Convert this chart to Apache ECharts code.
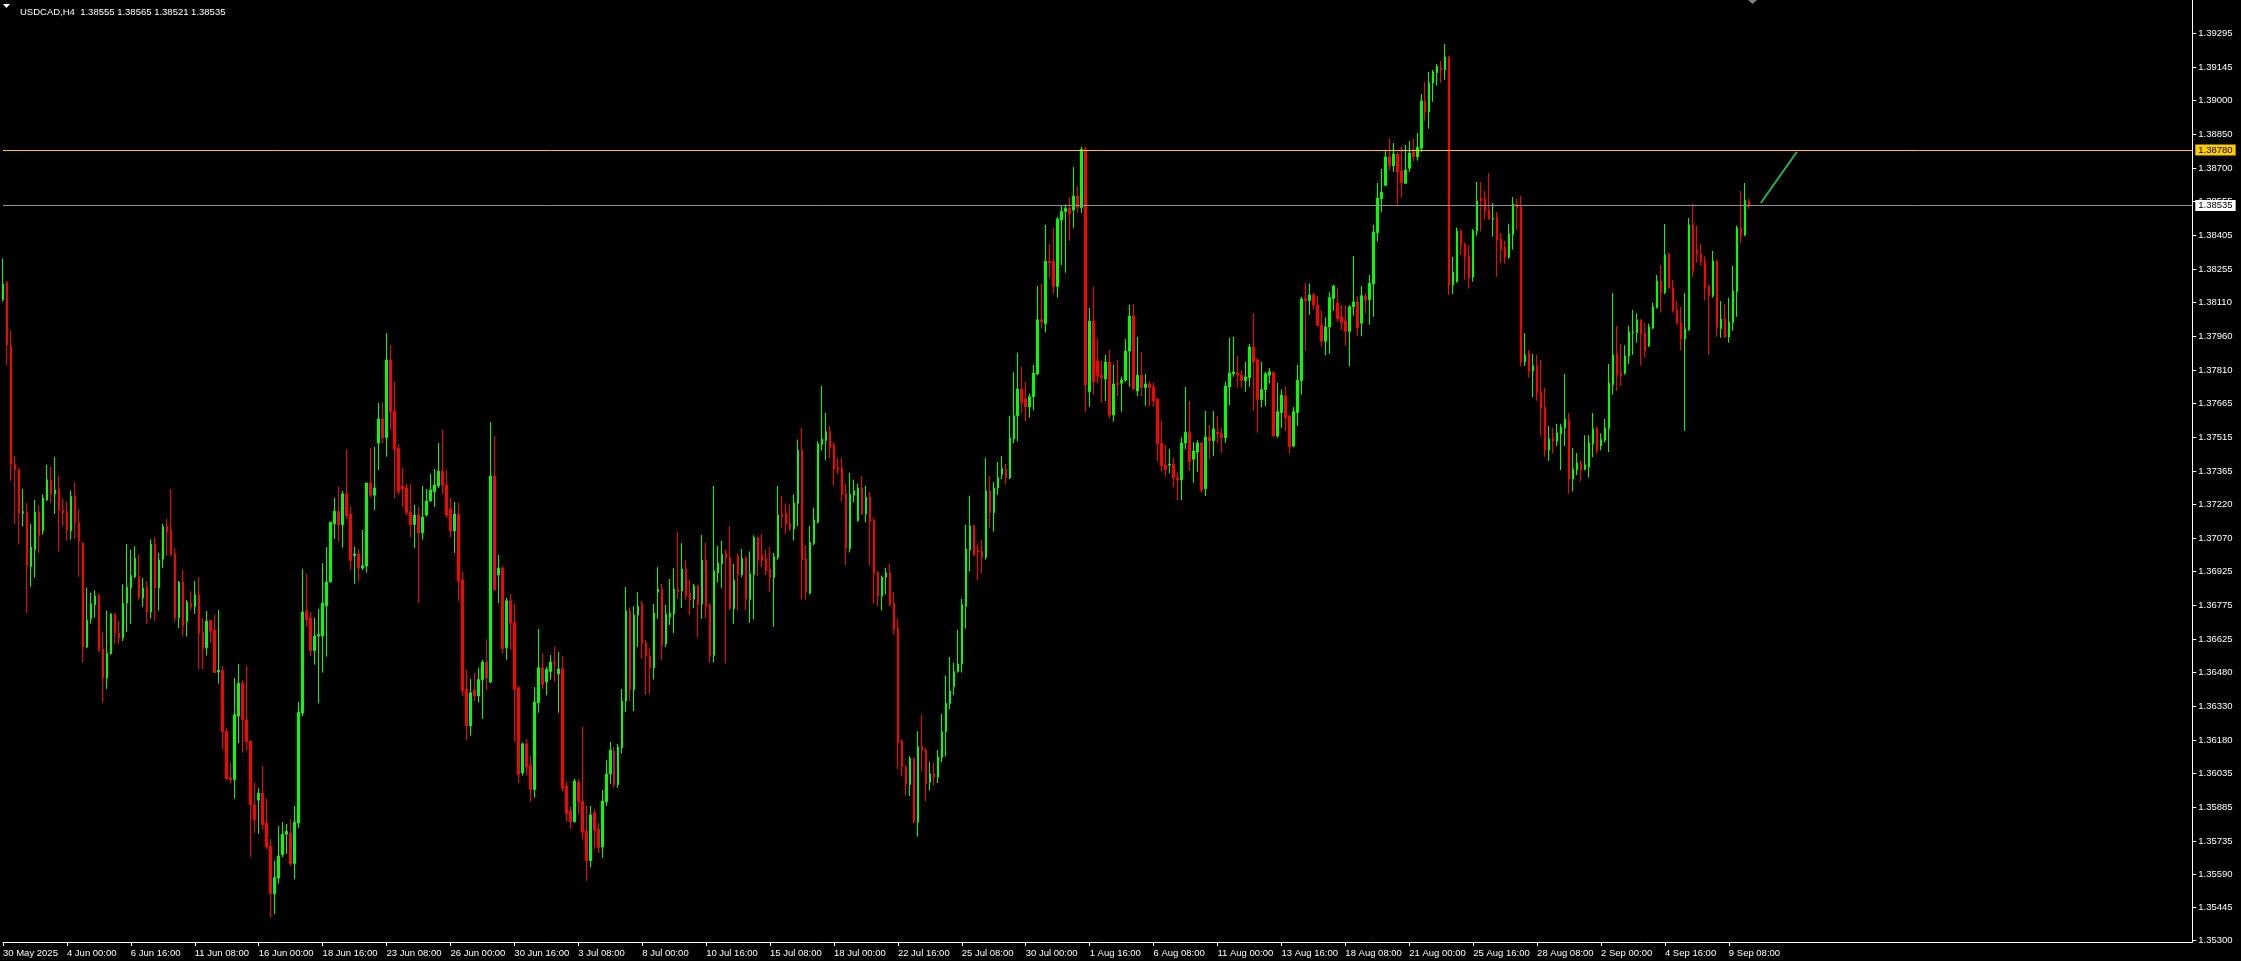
<!DOCTYPE html>
<html><head><meta charset="utf-8">
<script src="https://cdn.jsdelivr.net/npm/echarts@6/dist/echarts.min.js"></script>
<style>html,body{margin:0;padding:0;background:#000;}#c{width:2241px;height:961px;}</style>
</head><body><div id="c"></div>
<script>
const symbol = 'USDCAD';
const timeframe = 'H4';
const dateLabels = ['30 May 2025','4 Jun 00:00','6 Jun 16:00','11 Jun 08:00','16 Jun 00:00','18 Jun 16:00','23 Jun 08:00','26 Jun 00:00','30 Jun 16:00','3 Jul 08:00','8 Jul 00:00','10 Jul 16:00','15 Jul 08:00','18 Jul 00:00','22 Jul 16:00','25 Jul 08:00','30 Jul 00:00','1 Aug 16:00','6 Aug 08:00','11 Aug 00:00','13 Aug 16:00','18 Aug 08:00','21 Aug 00:00','25 Aug 16:00','28 Aug 08:00','2 Sep 00:00','4 Sep 16:00','9 Sep 08:00'];
const barsPerLabel = 16;
const totalSlots = 549;
const priceTicks = [1.39295,1.39145,1.39000,1.38850,1.38700,1.38555,1.38405,1.38255,1.38110,1.37960,1.37810,1.37665,1.37515,1.37365,1.37220,1.37070,1.36925,1.36775,1.36625,1.36480,1.36330,1.36180,1.36035,1.35885,1.35735,1.35590,1.35445,1.35300];
const priceMin = 1.352912;
const priceMax = 1.394403;
const resistanceLevel = 1.38780;
const trendX = [440, 449];
const trendY = [1.38546, 1.38771];

const openP = [
1.38121,1.38195,1.37916,1.37395,1.37375,1.37181,1.37185,1.36945,1.37020,1.37185,
1.37102,1.37238,1.37327,1.37265,1.37286,1.37193,1.37187,1.37102,1.37255,1.37139,
1.37048,1.36590,1.36716,1.36776,1.36817,1.36582,1.36454,1.36561,1.36736,1.36652,
1.36631,1.36784,1.36852,1.36900,1.36902,1.36807,1.36854,1.36745,1.37044,1.36850,
1.36978,1.37123,1.37106,1.37001,1.36720,1.36877,1.36703,1.36784,1.36769,1.36821,
1.36654,1.36588,1.36708,1.36666,1.36480,1.36487,1.36220,1.36015,1.36007,1.36286,
1.36431,1.36270,1.36175,1.35896,1.35916,1.35947,1.35815,1.35714,1.35503,1.35573,
1.35677,1.35766,1.35770,1.35637,1.35815,1.36299,1.36749,1.36718,1.36575,1.36639,
1.36639,1.36772,1.36877,1.37133,1.37189,1.37129,1.37265,1.37175,1.36993,1.37000,
1.36938,1.36947,1.37313,1.37259,1.37489,1.37595,1.37513,1.37855,1.37630,1.37466,
1.37300,1.37291,1.37185,1.37130,1.37172,1.37094,1.37172,1.37234,1.37275,1.37300,
1.37365,1.37304,1.37198,1.37102,1.37176,1.36886,1.36405,1.36243,1.36400,1.36375,
1.36447,1.36524,1.36436,1.37344,1.36908,1.36938,1.36587,1.36794,1.36697,1.36411,
1.36036,1.36164,1.36071,1.35963,1.36345,1.36499,1.36436,1.36482,1.36524,1.36472,
1.36494,1.35978,1.35869,1.35821,1.35995,1.35912,1.35780,1.35650,1.35860,1.35789,
1.35710,1.35909,1.36031,1.36133,1.35984,1.36147,1.36353,1.36749,1.36402,1.36731,
1.36780,1.36609,1.36551,1.36499,1.36832,1.36846,1.36604,1.36722,1.36736,1.36846,
1.36837,1.36934,1.36828,1.36802,1.36859,1.36780,1.36974,1.36776,1.36554,1.36917,
1.36956,1.37003,1.36984,1.36759,1.36992,1.36909,1.36984,1.36800,1.36909,1.37071,
1.36996,1.36980,1.36932,1.36896,1.36984,1.37174,1.37180,1.37133,1.37110,1.37223,
1.37457,1.36980,1.36828,1.37046,1.37140,1.37483,1.37500,1.37539,1.37483,1.37381,
1.37379,1.37268,1.37024,1.37259,1.37148,1.37291,1.37176,1.37251,1.37148,1.36918,
1.36815,1.36898,1.36918,1.36781,1.36674,1.36177,1.36064,1.35985,1.36098,1.35820,
1.36151,1.36136,1.35995,1.36032,1.36017,1.36104,1.36217,1.36341,1.36416,1.36482,
1.36516,1.36770,1.37018,1.37124,1.37018,1.37013,1.36986,1.37278,1.37182,1.37291,
1.37351,1.37374,1.37336,1.37507,1.37609,1.37727,1.37684,1.37648,1.37693,1.37793,
1.38032,1.38015,1.38290,1.38290,1.38179,1.38471,1.38509,1.38523,1.38515,1.38577,
1.38526,1.38782,1.37715,1.38026,1.37850,1.37788,1.37771,1.37846,1.37612,1.37752,
1.37752,1.37766,1.37894,1.38048,1.37718,1.37788,1.37733,1.37749,1.37736,1.37683,
1.37489,1.37392,1.37392,1.37396,1.37336,1.37326,1.37489,1.37537,1.37418,1.37449,
1.37489,1.37288,1.37515,1.37499,1.37536,1.37530,1.37512,1.37736,1.37794,1.37799,
1.37788,1.37764,1.37777,1.37912,1.37855,1.37680,1.37724,1.37788,1.37799,1.37520,
1.37623,1.37696,1.37608,1.37476,1.37623,1.37764,1.38125,1.38117,1.38141,1.38097,
1.38009,1.37937,1.38000,1.38126,1.38106,1.38045,1.38026,1.37981,1.38089,1.38110,
1.38017,1.38136,1.38120,1.38190,1.38415,1.38565,1.38624,1.38749,1.38710,1.38762,
1.38687,1.38633,1.38699,1.38771,1.38750,1.38788,1.38995,1.38947,1.39075,1.39120,
1.39144,1.39132,1.39189,1.38185,1.38200,1.38423,1.38365,1.38313,1.38220,1.38423,
1.38568,1.38564,1.38515,1.38476,1.38484,1.38387,1.38352,1.38308,1.38407,1.38542,
1.38530,1.37846,1.37885,1.37806,1.37828,1.37714,1.37647,1.37458,1.37512,1.37498,
1.37530,1.37556,1.37595,1.37330,1.37371,1.37401,1.37374,1.37383,1.37486,1.37552,
1.37477,1.37501,1.37552,1.37746,1.37881,1.37796,1.37796,1.37872,1.37975,1.37975,
1.38031,1.37971,1.37916,1.37995,1.38085,1.38202,1.38151,1.38321,1.38173,1.38075,
1.38017,1.37947,1.37988,1.38449,1.38339,1.38323,1.38291,1.38178,1.38138,1.38291,
1.37993,1.38035,1.37956,1.38019,1.38156,1.38436,1.38405,1.38555];

const highP = [
1.38302,1.38203,1.37982,1.37431,1.37379,1.37286,1.37224,1.37133,1.37238,1.37216,
1.37263,1.37393,1.37385,1.37427,1.37346,1.37245,1.37232,1.37280,1.37317,1.37197,
1.37053,1.36852,1.36829,1.36840,1.36827,1.36658,1.36751,1.36739,1.36739,1.36706,
1.36867,1.37044,1.37019,1.37034,1.36999,1.36894,1.36881,1.37065,1.37075,1.37005,
1.37133,1.37154,1.37286,1.37026,1.36881,1.36929,1.36798,1.36836,1.36881,1.36898,
1.36718,1.36749,1.36710,1.36732,1.36753,1.36507,1.36232,1.36080,1.36454,1.36515,
1.36445,1.36507,1.36180,1.35993,1.35968,1.36067,1.35922,1.35745,1.35648,1.35801,
1.35819,1.35811,1.35832,1.35890,1.36348,1.36933,1.36912,1.36745,1.36720,1.36757,
1.36960,1.37030,1.37143,1.37247,1.37298,1.37278,1.37460,1.37207,1.37032,1.37023,
1.37106,1.37313,1.37466,1.37471,1.37666,1.37669,1.37973,1.37921,1.37760,1.37484,
1.37379,1.37309,1.37309,1.37216,1.37207,1.37300,1.37286,1.37352,1.37374,1.37489,
1.37547,1.37370,1.37246,1.37230,1.37225,1.36922,1.36491,1.36450,1.36476,1.36499,
1.36534,1.36625,1.37581,1.37520,1.36996,1.36945,1.36807,1.36823,1.36780,1.36418,
1.36170,1.36185,1.36111,1.36414,1.36670,1.36564,1.36502,1.36555,1.36591,1.36569,
1.36551,1.35995,1.35887,1.36010,1.36010,1.36240,1.35890,1.35890,1.35876,1.35815,
1.35961,1.36092,1.36172,1.36150,1.36164,1.36405,1.36855,1.36765,1.36770,1.36832,
1.36794,1.36621,1.36587,1.36780,1.36942,1.36868,1.36776,1.36890,1.36938,1.37097,
1.37048,1.36974,1.36886,1.36868,1.36865,1.37084,1.37050,1.36781,1.37300,1.37035,
1.37058,1.37020,1.37122,1.36956,1.37003,1.37022,1.36990,1.37011,1.37082,1.37075,
1.37088,1.37018,1.37031,1.37005,1.37300,1.37257,1.37223,1.37219,1.37263,1.37504,
1.37556,1.37039,1.37124,1.37204,1.37496,1.37740,1.37622,1.37564,1.37492,1.37421,
1.37424,1.37308,1.37357,1.37327,1.37310,1.37345,1.37300,1.37274,1.37157,1.36925,
1.36905,1.36939,1.36956,1.36832,1.36715,1.36183,1.36070,1.36109,1.36105,1.36220,
1.36292,1.36145,1.36085,1.36081,1.36138,1.36296,1.36465,1.36546,1.36521,1.36666,
1.36802,1.37129,1.37257,1.37129,1.37043,1.37062,1.37424,1.37345,1.37317,1.37406,
1.37432,1.37398,1.37609,1.37801,1.37887,1.37825,1.37757,1.37707,1.37833,1.38181,
1.38190,1.38450,1.38365,1.38435,1.38485,1.38534,1.38540,1.38572,1.38705,1.38621,
1.38793,1.38793,1.38084,1.38176,1.37947,1.37850,1.37877,1.37899,1.37833,1.37855,
1.37781,1.37947,1.38097,1.38101,1.37957,1.37890,1.37793,1.37762,1.37755,1.37686,
1.37586,1.37480,1.37463,1.37423,1.37360,1.37515,1.37736,1.37674,1.37493,1.37501,
1.37495,1.37630,1.37568,1.37630,1.37608,1.37554,1.37759,1.37953,1.37956,1.37874,
1.37810,1.37846,1.37926,1.38062,1.37862,1.37847,1.37803,1.37819,1.37805,1.37755,
1.37725,1.37737,1.37612,1.37647,1.37833,1.38133,1.38194,1.38191,1.38151,1.38136,
1.38072,1.38042,1.38153,1.38186,1.38173,1.38097,1.38095,1.38095,1.38313,1.38135,
1.38180,1.38151,1.38229,1.38449,1.38634,1.38696,1.38775,1.38832,1.38810,1.38769,
1.38793,1.38802,1.38819,1.38828,1.38854,1.39026,1.39079,1.39123,1.39132,1.39158,
1.39172,1.39246,1.39195,1.38308,1.38439,1.38430,1.38371,1.38361,1.38432,1.38639,
1.38639,1.38599,1.38678,1.38546,1.38506,1.38414,1.38380,1.38455,1.38572,1.38564,
1.38578,1.37973,1.37899,1.37881,1.37877,1.37855,1.37733,1.37564,1.37556,1.37574,
1.37574,1.37793,1.37621,1.37467,1.37445,1.37411,1.37523,1.37524,1.37621,1.37561,
1.37531,1.37595,1.37837,1.38150,1.38006,1.37925,1.37919,1.38006,1.38076,1.38060,
1.38034,1.38017,1.38015,1.38107,1.38229,1.38273,1.38454,1.38327,1.38207,1.38114,
1.38089,1.38150,1.38480,1.38543,1.38446,1.38365,1.38311,1.38189,1.38335,1.38296,
1.38114,1.38101,1.38129,1.38269,1.38446,1.38599,1.38634,1.38565];

const lowP = [
1.38112,1.37834,1.37323,1.37133,1.37042,1.37121,1.36741,1.36856,1.36896,1.37005,
1.37086,1.37234,1.37224,1.37177,1.37011,1.37123,1.37059,1.37063,1.37069,1.36900,
1.36522,1.36586,1.36693,1.36720,1.36569,1.36346,1.36406,1.36557,1.36604,1.36606,
1.36617,1.36656,1.36693,1.36894,1.36799,1.36768,1.36693,1.36716,1.36706,1.36751,
1.36939,1.36993,1.36991,1.36701,1.36674,1.36637,1.36637,1.36753,1.36737,1.36493,
1.36493,1.36553,1.36610,1.36476,1.36429,1.36140,1.36005,1.35989,1.35923,1.36168,
1.36125,1.36135,1.35666,1.35772,1.35768,1.35786,1.35701,1.35398,1.35414,1.35549,
1.35664,1.35679,1.35627,1.35567,1.35792,1.36286,1.36681,1.36551,1.36513,1.36342,
1.36478,1.36548,1.36875,1.37067,1.37055,1.37028,1.37154,1.36931,1.36869,1.36881,
1.36929,1.36918,1.37249,1.37194,1.37370,1.37489,1.37429,1.37547,1.37246,1.37261,
1.37207,1.37172,1.37075,1.37027,1.36784,1.37063,1.37165,1.37231,1.37207,1.37291,
1.37264,1.37160,1.37075,1.37005,1.36794,1.36375,1.36179,1.36200,1.36353,1.36346,
1.36275,1.36402,1.36432,1.36837,1.36784,1.36561,1.36534,1.36579,1.36174,1.35992,
1.36024,1.36024,1.35909,1.35927,1.36301,1.36406,1.36377,1.36447,1.36437,1.36301,
1.35954,1.35821,1.35790,1.35817,1.35857,1.35742,1.35561,1.35620,1.35702,1.35683,
1.35662,1.35891,1.35988,1.35972,1.35970,1.36121,1.36305,1.36353,1.36308,1.36591,
1.36539,1.36381,1.36384,1.36447,1.36715,1.36534,1.36591,1.36688,1.36652,1.36802,
1.36762,1.36798,1.36731,1.36762,1.36634,1.36715,1.36719,1.36522,1.36522,1.36875,
1.36849,1.36518,1.36753,1.36693,1.36753,1.36898,1.36753,1.36697,1.36712,1.36902,
1.36941,1.36907,1.36834,1.36680,1.36975,1.37112,1.37090,1.37103,1.37060,1.37122,
1.36800,1.36800,1.36822,1.37039,1.37135,1.37456,1.37413,1.37421,1.37302,1.37351,
1.37231,1.36952,1.37007,1.37227,1.37142,1.37172,1.37140,1.36952,1.36783,1.36770,
1.36751,1.36822,1.36770,1.36646,1.36053,1.36021,1.35938,1.35934,1.35814,1.35756,
1.36042,1.35912,1.35959,1.35983,1.35991,1.36083,1.36109,1.36316,1.36380,1.36478,
1.36478,1.36672,1.36924,1.36992,1.36885,1.36915,1.36975,1.37116,1.37099,1.37261,
1.37330,1.37306,1.37330,1.37488,1.37496,1.37620,1.37584,1.37601,1.37633,1.37789,
1.37994,1.37976,1.38216,1.38145,1.38130,1.38273,1.38239,1.38380,1.38437,1.38503,
1.38503,1.37627,1.37649,1.37702,1.37752,1.37667,1.37674,1.37598,1.37583,1.37696,
1.37627,1.37759,1.37737,1.37722,1.37696,1.37696,1.37653,1.37649,1.37649,1.37411,
1.37363,1.37341,1.37355,1.37294,1.37238,1.37238,1.37461,1.37367,1.37314,1.37361,
1.37270,1.37256,1.37418,1.37432,1.37487,1.37446,1.37490,1.37656,1.37781,1.37733,
1.37733,1.37715,1.37737,1.37631,1.37534,1.37646,1.37650,1.37752,1.37517,1.37512,
1.37556,1.37543,1.37443,1.37470,1.37565,1.37703,1.37896,1.38054,1.38078,1.38004,
1.37912,1.37875,1.37882,1.38072,1.38023,1.37985,1.37918,1.37827,1.38050,1.37959,
1.37959,1.38059,1.38010,1.38045,1.38377,1.38505,1.38622,1.38688,1.38683,1.38539,
1.38571,1.38630,1.38684,1.38731,1.38733,1.38772,1.38907,1.38873,1.38992,1.39063,
1.39076,1.39089,1.38141,1.38145,1.38195,1.38317,1.38208,1.38169,1.38200,1.38402,
1.38420,1.38473,1.38473,1.38398,1.38220,1.38282,1.38279,1.38300,1.38341,1.38429,
1.37825,1.37828,1.37777,1.37692,1.37675,1.37521,1.37429,1.37410,1.37443,1.37477,
1.37370,1.37476,1.37266,1.37275,1.37348,1.37322,1.37369,1.37336,1.37427,1.37443,
1.37457,1.37492,1.37449,1.37702,1.37718,1.37741,1.37790,1.37837,1.37877,1.37931,
1.37830,1.37865,1.37912,1.37992,1.38081,1.38064,1.38145,1.38170,1.38063,1.38010,
1.37896,1.37543,1.37982,1.38220,1.38283,1.38269,1.38116,1.37878,1.38129,1.37957,
1.37953,1.37953,1.37931,1.37984,1.38045,1.38368,1.38400,1.38521];

const closeP = [
1.38189,1.37922,1.37395,1.37371,1.37181,1.37187,1.36949,1.37030,1.37185,1.37081,
1.37247,1.37327,1.37265,1.37282,1.37193,1.37181,1.37104,1.37255,1.37139,1.37057,
1.36590,1.36708,1.36780,1.36815,1.36577,1.36454,1.36563,1.36736,1.36652,1.36631,
1.36784,1.36854,1.36906,1.36982,1.36807,1.36850,1.36745,1.37044,1.36850,1.36974,
1.37119,1.37096,1.36997,1.36720,1.36875,1.36683,1.36788,1.36767,1.36821,1.36652,
1.36584,1.36705,1.36660,1.36478,1.36487,1.36218,1.36011,1.36007,1.36292,1.36431,
1.36270,1.36173,1.35896,1.35830,1.35947,1.35809,1.35710,1.35505,1.35575,1.35670,
1.35766,1.35778,1.35635,1.35819,1.36303,1.36745,1.36710,1.36575,1.36639,1.36645,
1.36784,1.36877,1.37139,1.37189,1.37129,1.37265,1.37170,1.36972,1.37000,1.36938,
1.36948,1.37313,1.37259,1.37291,1.37595,1.37513,1.37855,1.37626,1.37462,1.37275,
1.37286,1.37182,1.37130,1.37172,1.37094,1.37163,1.37234,1.37282,1.37304,1.37365,
1.37304,1.37172,1.37102,1.37176,1.36881,1.36398,1.36243,1.36389,1.36375,1.36447,
1.36524,1.36454,1.37344,1.36843,1.36938,1.36584,1.36794,1.36695,1.36405,1.36028,
1.36164,1.36062,1.35963,1.36348,1.36499,1.36424,1.36491,1.36524,1.36519,1.36494,
1.35970,1.35857,1.35821,1.36000,1.35909,1.35775,1.35650,1.35851,1.35784,1.35707,
1.35912,1.36031,1.36137,1.35984,1.36150,1.36353,1.36749,1.36402,1.36731,1.36770,
1.36606,1.36550,1.36499,1.36740,1.36846,1.36600,1.36736,1.36740,1.36846,1.36832,
1.36934,1.36816,1.36798,1.36859,1.36776,1.36974,1.36770,1.36550,1.36926,1.36960,
1.36999,1.36984,1.36759,1.36885,1.36909,1.36980,1.36800,1.36913,1.37073,1.36973,
1.36971,1.36924,1.36896,1.36988,1.37172,1.37165,1.37131,1.37110,1.37225,1.37457,
1.36975,1.36832,1.37050,1.37150,1.37485,1.37507,1.37539,1.37468,1.37374,1.37372,
1.37263,1.37024,1.37263,1.37278,1.37291,1.37176,1.37249,1.37144,1.36915,1.36813,
1.36898,1.36918,1.36777,1.36670,1.36170,1.36064,1.35985,1.36100,1.35820,1.36151,
1.36134,1.35989,1.36032,1.36015,1.36106,1.36217,1.36343,1.36397,1.36482,1.36516,
1.36777,1.37022,1.37124,1.36996,1.37009,1.36986,1.37278,1.37182,1.37291,1.37336,
1.37377,1.37336,1.37511,1.37609,1.37727,1.37669,1.37648,1.37693,1.37797,1.38032,
1.38023,1.38290,1.38284,1.38179,1.38476,1.38509,1.38523,1.38499,1.38577,1.38526,
1.38782,1.37744,1.38026,1.37759,1.37785,1.37777,1.37846,1.37612,1.37749,1.37746,
1.37766,1.37894,1.38048,1.37728,1.37788,1.37733,1.37749,1.37733,1.37674,1.37486,
1.37389,1.37371,1.37396,1.37336,1.37326,1.37489,1.37537,1.37407,1.37454,1.37489,
1.37282,1.37515,1.37499,1.37551,1.37529,1.37512,1.37740,1.37797,1.37802,1.37788,
1.37764,1.37780,1.37912,1.37847,1.37680,1.37724,1.37794,1.37803,1.37520,1.37627,
1.37700,1.37601,1.37473,1.37627,1.37766,1.38123,1.38117,1.38141,1.38097,1.38007,
1.37937,1.38000,1.38129,1.38180,1.38037,1.38019,1.37981,1.38089,1.38110,1.37998,
1.38138,1.38119,1.38192,1.38418,1.38568,1.38595,1.38749,1.38710,1.38762,1.38684,
1.38636,1.38691,1.38766,1.38750,1.38791,1.38995,1.38947,1.39075,1.39123,1.39147,
1.39132,1.39189,1.38185,1.38242,1.38423,1.38361,1.38308,1.38216,1.38423,1.38555,
1.38555,1.38512,1.38476,1.38479,1.38383,1.38341,1.38308,1.38410,1.38542,1.38526,
1.37846,1.37877,1.37806,1.37828,1.37709,1.37643,1.37458,1.37507,1.37498,1.37533,
1.37559,1.37595,1.37330,1.37374,1.37401,1.37370,1.37392,1.37489,1.37552,1.37454,
1.37504,1.37555,1.37753,1.37877,1.37790,1.37784,1.37872,1.37978,1.37978,1.38031,
1.37968,1.37896,1.38000,1.38088,1.38202,1.38151,1.38317,1.38173,1.38072,1.38015,
1.37947,1.37991,1.38449,1.38247,1.38323,1.38288,1.38173,1.38138,1.38291,1.37997,
1.38035,1.37956,1.38022,1.38158,1.38436,1.38398,1.38559,1.38535];

const FONT = "'Liberation Sans', Arial, sans-serif";
const FS = 9.5;
const last = closeP.length - 1;
const bidLevel = closeP[last];
const fmt = v => v.toFixed(5);

const candles = openP.map((o, i) => [o, closeP[i], lowP[i], highP[i]]);
const slots = Array.from({length: totalSlots}, (_, i) => String(i));
const isLabelSlot = i => i % barsPerLabel === 0 && (i / barsPerLabel) < dateLabels.length;

const levelLabel = (bg) => ({
  show: true, position: 'end', distance: 3, color: '#000000', backgroundColor: bg,
  padding: [1, 3, 0, 3], fontSize: FS, lineHeight: 10, fontFamily: FONT
});

const chart = echarts.init(document.getElementById('c'), null, {renderer: 'canvas'});
chart.setOption({
  animation: false,
  backgroundColor: '#000000',
  title: {
    text: symbol + ',' + timeframe + '  ' + [openP[last], highP[last], lowP[last], closeP[last]].map(fmt).join(' '),
    left: 15, top: 2,
    textStyle: {color: '#ffffff', fontSize: FS, fontWeight: 'normal', fontFamily: FONT}
  },
  graphic: [
    {type: 'polygon', shape: {points: [[3, 4], [10, 4], [6.5, 8]]}, style: {fill: '#ffffff'}},
    {type: 'polygon', shape: {points: [[1748, 0], [1757, 0], [1752.5, 4]]}, style: {fill: '#7f7f7f'}}
  ],
  grid: {left: 0.3, top: 0, width: 2192, height: 942, containLabel: false},
  xAxis: {
    type: 'category',
    data: slots,
    boundaryGap: false,
    axisLine: {show: true, lineStyle: {color: '#ffffff', width: 1}},
    axisTick: {show: true, length: 4, lineStyle: {color: '#ffffff'}, interval: (i) => isLabelSlot(i)},
    axisLabel: {
      show: true, interval: (i) => isLabelSlot(i), align: 'left', margin: 6,
      showMinLabel: true, hideOverlap: false,
      color: '#ffffff', fontSize: FS, fontFamily: FONT,
      formatter: (v, i) => dateLabels[Number(v) / barsPerLabel]
    },
    splitLine: {show: false}
  },
  yAxis: {
    type: 'value',
    position: 'right',
    min: priceMin, max: priceMax,
    axisLine: {show: true, lineStyle: {color: '#ffffff', width: 1}},
    axisTick: {show: true, length: 4, inside: false, customValues: priceTicks, lineStyle: {color: '#ffffff'}},
    axisLabel: {show: true, customValues: priceTicks, margin: 6, color: '#ffffff', fontSize: FS, fontFamily: FONT, formatter: v => fmt(v)},
    splitLine: {show: false}
  },
  series: [
    {
      type: 'candlestick',
      data: candles,
      barWidth: 2,
      itemStyle: {color: '#00ff00', color0: '#ff0000', borderColor: '#00ff00', borderColor0: '#ff0000', borderWidth: 1}
    },
    {
      type: 'line',
      data: trendX.map((x, i) => [x, trendY[i]]),
      symbol: 'none',
      lineStyle: {color: '#22b14c', width: 2},
      z: 3,
      markLine: {
        silent: true, symbol: ['none', 'none'], animation: false, precision: 5,
        data: [
          {yAxis: resistanceLevel, lineStyle: {color: '#ffc800', width: 1, type: 'solid'},
           label: Object.assign(levelLabel('#ffcc00'), {formatter: () => fmt(resistanceLevel)})},
          {yAxis: bidLevel, lineStyle: {color: '#8e929a', width: 1, type: 'solid'},
           label: Object.assign(levelLabel('#ffffff'), {formatter: () => fmt(bidLevel)})}
        ]
      }
    }
  ]
});
</script>
</body></html>
